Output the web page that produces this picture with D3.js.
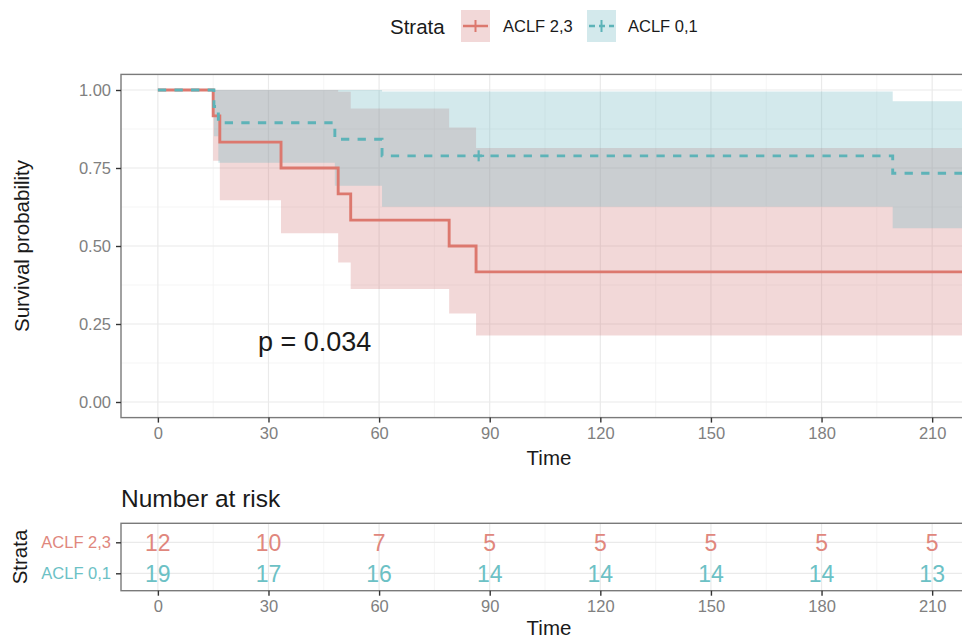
<!DOCTYPE html>
<html>
<head>
<meta charset="utf-8">
<script src="https://cdn.jsdelivr.net/npm/d3@7"></script>
<style>
  body { margin: 0; background: #fff; }
  svg { display: block; font-family: "Liberation Sans", Arial, sans-serif; }
</style>
</head>
<body>
<div id="chart"></div>
<script>
// Data
const strata = ["ACLF 2,3", "ACLF 0,1"];
const colors = ["#DC786E", "#5DB3B8"];
const bandColors = ["rgb(212,125,125)", "rgb(108,182,192)"];
const textColors = ["#E0877D", "#6CC1C5"];

// ACLF 2,3
const timeRed  = [0, 15, 16.8, 33.4, 48.9, 52.3, 79, 86.3, 225];
const survRed  = [1, 0.917, 0.833, 0.75, 0.667, 0.583, 0.5, 0.417, 0.417];
const lowerRed = [1, 0.773, 0.647, 0.541, 0.447, 0.362, 0.284, 0.213, 0.213];
const upperRed = [1, 1, 1, 1, 0.994, 0.941, 0.880, 0.814, 0.814];

// ACLF 0,1
const timeTeal  = [0, 15.2, 16.4, 48, 60.8, 199.3, 225];
const survTeal  = [1, 0.947, 0.895, 0.842, 0.789, 0.733, 0.733];
const lowerTeal = [1, 0.852, 0.767, 0.693, 0.626, 0.557, 0.557];
const upperTeal = [1, 1, 1, 1, 0.995, 0.964, 0.964];
const censorTeal = [{ t: 87, s: 0.789 }];

const riskTimes = [0, 30, 60, 90, 120, 150, 180, 210];
const riskRed   = [12, 10, 7, 5, 5, 5, 5, 5];
const riskTeal  = [19, 17, 16, 14, 14, 14, 14, 13];

const xTicks = [0, 30, 60, 90, 120, 150, 180, 210];
const yTicks = [0, 0.25, 0.5, 0.75, 1];
const pValue = "p = 0.034";

const W = 962, H = 640;
const left = 121, right = 1000;

const svg = d3.select("#chart").append("svg")
    .attr("width", W)
    .attr("height", H);

// x scale shared by plot and table
const x = d3.scaleLinear().domain([-10, 228.4]).range([left, right]);
const y = d3.scaleLinear().domain([-0.05, 1.05]).range([417.6, 74.4]);

const grid = svg.append("g");
// minor grid
xTicks.forEach(t => {
  grid.append("line").attr("x1", x(t + 15)).attr("x2", x(t + 15))
    .attr("y1", y.range()[0]).attr("y2", y.range()[1])
    .attr("stroke", "#F3F3F3").attr("stroke-width", 0.8);
});
[0.125, 0.375, 0.625, 0.875].forEach(v => {
  grid.append("line").attr("x1", left).attr("x2", right)
    .attr("y1", y(v)).attr("y2", y(v))
    .attr("stroke", "#F3F3F3").attr("stroke-width", 0.8);
});
// major grid
xTicks.forEach(t => {
  grid.append("line").attr("x1", x(t)).attr("x2", x(t))
    .attr("y1", y.range()[0]).attr("y2", y.range()[1])
    .attr("stroke", "#EAEAEA").attr("stroke-width", 1.2);
});
yTicks.forEach(v => {
  grid.append("line").attr("x1", left).attr("x2", right)
    .attr("y1", y(v)).attr("y2", y(v))
    .attr("stroke", "#EAEAEA").attr("stroke-width", 1.2);
});

const curves = [
  { t: timeRed, s: survRed, lo: lowerRed, hi: upperRed, dash: null },
  { t: timeTeal, s: survTeal, lo: lowerTeal, hi: upperTeal, dash: "8.3,8.3" }
];

const area = d3.area().curve(d3.curveStepAfter)
  .x(d => x(d.t)).y0(d => y(d.lo)).y1(d => y(d.hi));
const line = d3.line().curve(d3.curveStepAfter)
  .x(d => x(d.t)).y(d => y(d.s));

curves.forEach((c, i) => {
  const pts = c.t.map((t, j) => ({ t: t, s: c.s[j], lo: c.lo[j], hi: c.hi[j] }));
  svg.append("path").attr("d", area(pts))
    .attr("fill", bandColors[i]).attr("fill-opacity", 0.3);
});
curves.forEach((c, i) => {
  const pts = c.t.map((t, j) => ({ t: t, s: c.s[j] }));
  svg.append("path").attr("d", line(pts))
    .attr("fill", "none")
    .attr("stroke", colors[i])
    .attr("stroke-width", 2.9)
    .attr("stroke-dasharray", c.dash);
});

// censor mark
censorTeal.forEach(d => {
  const g = svg.append("g").attr("stroke", colors[1]).attr("stroke-width", 2.2);
  g.append("line").attr("x1", x(d.t) - 5.5).attr("x2", x(d.t) + 5.5)
    .attr("y1", y(d.s)).attr("y2", y(d.s));
  g.append("line").attr("x1", x(d.t)).attr("x2", x(d.t))
    .attr("y1", y(d.s) - 5.5).attr("y2", y(d.s) + 5.5);
});

// p-value
svg.append("text").attr("x", 258).attr("y", 351)
  .attr("font-size", 27).attr("fill", "#1a1a1a").text(pValue);

// panel border
svg.append("rect").attr("x", left).attr("y", y.range()[1])
  .attr("width", right - left).attr("height", y.range()[0] - y.range()[1])
  .attr("fill", "none").attr("stroke", "#7a7a7a").attr("stroke-width", 1.4);

// axes
const yAxis = svg.append("g").attr("transform", `translate(${left},0)`)
  .call(d3.axisLeft(y).tickValues(yTicks).tickFormat(d3.format(".2f")).tickSize(5).tickPadding(5));
const xAxis = svg.append("g").attr("transform", `translate(0,${y.range()[0]})`)
  .call(d3.axisBottom(x).tickValues(xTicks).tickSize(5).tickPadding(5));
[yAxis, xAxis].forEach(a => {
  a.select(".domain").remove();
  a.selectAll("line").attr("stroke", "#333").attr("stroke-width", 1.4);
  a.selectAll("text").attr("font-size", 16.5).attr("fill", "#808080")
    .attr("font-family", "Liberation Sans, Arial, sans-serif");
});

svg.append("text").attr("x", 549).attr("y", 465).attr("text-anchor", "middle")
  .attr("font-size", 20.5).attr("fill", "#1a1a1a").text("Time");
svg.append("text").attr("transform", "translate(29,246) rotate(-90)")
  .attr("text-anchor", "middle").attr("font-size", 20.5).attr("fill", "#1a1a1a")
  .text("Survival probability");

// legend
const legend = svg.append("g");
legend.append("text").attr("x", 390).attr("y", 34).attr("font-size", 20.5)
  .attr("fill", "#1a1a1a").text("Strata");
const keyX = [461, 587], labX = [503, 628];
strata.forEach((s, i) => {
  legend.append("rect").attr("x", keyX[i]).attr("y", 10).attr("width", 29).attr("height", 32)
    .attr("fill", bandColors[i]).attr("fill-opacity", 0.3);
  legend.append("line").attr("x1", keyX[i] + 2).attr("x2", keyX[i] + 27)
    .attr("y1", 26).attr("y2", 26).attr("stroke", colors[i]).attr("stroke-width", 2.5)
    .attr("stroke-dasharray", i === 1 ? "6,4" : null);
  legend.append("line").attr("x1", keyX[i] + 14.5).attr("x2", keyX[i] + 14.5)
    .attr("y1", 20).attr("y2", 32).attr("stroke", colors[i]).attr("stroke-width", 2);
  legend.append("text").attr("x", labX[i]).attr("y", 32).attr("font-size", 16.5)
    .attr("fill", "#1a1a1a").text(s);
});

// risk table
const tTop = 523.3, tBot = 590.7;
const ry = d3.scalePoint().domain(strata).range([542.3, 573.3]);

svg.append("text").attr("x", 121).attr("y", 507).attr("font-size", 24.5)
  .attr("fill", "#1a1a1a").text("Number at risk");

xTicks.forEach(t => {
  svg.append("line").attr("x1", x(t + 15)).attr("x2", x(t + 15))
    .attr("y1", tTop).attr("y2", tBot).attr("stroke", "#F3F3F3").attr("stroke-width", 0.8);
  svg.append("line").attr("x1", x(t)).attr("x2", x(t))
    .attr("y1", tTop).attr("y2", tBot).attr("stroke", "#EAEAEA").attr("stroke-width", 1.2);
});
strata.forEach(s => {
  svg.append("line").attr("x1", left).attr("x2", right)
    .attr("y1", ry(s)).attr("y2", ry(s)).attr("stroke", "#EAEAEA").attr("stroke-width", 1.2);
});

[riskRed, riskTeal].forEach((vals, i) => {
  svg.append("g").selectAll("text").data(vals).join("text")
    .attr("x", (d, j) => x(riskTimes[j]))
    .attr("y", ry(strata[i]))
    .attr("dy", "0.36em")
    .attr("text-anchor", "middle")
    .attr("font-size", 23)
    .attr("fill", textColors[i])
    .text(d => d);
});

svg.append("rect").attr("x", left).attr("y", tTop)
  .attr("width", right - left).attr("height", tBot - tTop)
  .attr("fill", "none").attr("stroke", "#7a7a7a").attr("stroke-width", 1.4);

const ryAxis = svg.append("g").attr("transform", `translate(${left},0)`)
  .call(d3.axisLeft(ry).tickSize(5).tickPadding(5));
const rxAxis = svg.append("g").attr("transform", `translate(0,${tBot})`)
  .call(d3.axisBottom(x).tickValues(xTicks).tickSize(5).tickPadding(5));
[ryAxis, rxAxis].forEach(a => {
  a.select(".domain").remove();
  a.selectAll("line").attr("stroke", "#333").attr("stroke-width", 1.4);
  a.selectAll("text").attr("font-size", 16.5).attr("fill", "#808080")
    .attr("font-family", "Liberation Sans, Arial, sans-serif");
});
ryAxis.selectAll("text").attr("fill", (d, i) => textColors[i]);

svg.append("text").attr("x", 549).attr("y", 635).attr("text-anchor", "middle")
  .attr("font-size", 20.5).attr("fill", "#1a1a1a").text("Time");
svg.append("text").attr("transform", "translate(27,557) rotate(-90)")
  .attr("text-anchor", "middle").attr("font-size", 20.5).attr("fill", "#1a1a1a")
  .text("Strata");
</script>
</body>
</html>
